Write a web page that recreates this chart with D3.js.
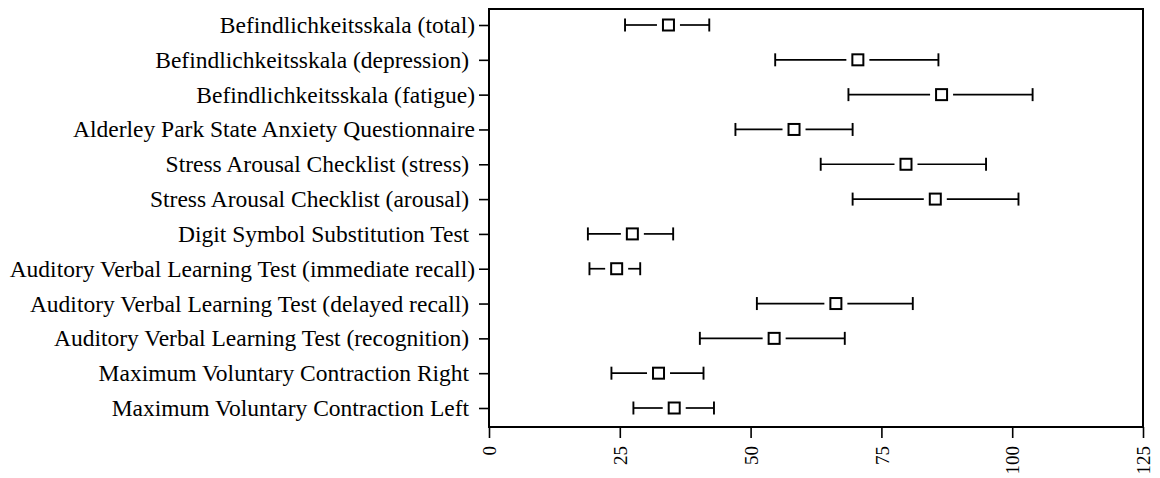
<!DOCTYPE html>
<html>
<head>
<meta charset="utf-8">
<script src="https://cdn.jsdelivr.net/npm/d3@7"></script>
<style>
  body { margin: 0; background: #fff; }
  svg { display: block; }
  text { white-space: pre; }
</style>
</head>
<body>
<svg id="chart" width="1160" height="478"></svg>
<script>
const categories = [
  "Befindlichkeitsskala (total)",
  "Befindlichkeitsskala (depression) ",
  "Befindlichkeitsskala (fatigue)",
  "Alderley Park State Anxiety Questionnaire",
  "Stress Arousal Checklist (stress) ",
  "Stress Arousal Checklist (arousal) ",
  "Digit Symbol Substitution Test ",
  "Auditory Verbal Learning Test (immediate recall)",
  "Auditory Verbal Learning Test (delayed recall) ",
  "Auditory Verbal Learning Test (recognition) ",
  "Maximum Voluntary Contraction Right ",
  "Maximum Voluntary Contraction Left "
];
const means = [34.3, 70.5, 86.5, 58.3, 79.7, 85.3, 27.4, 24.4, 66.3, 54.5, 32.4, 35.4];
const lows  = [26.0, 54.7, 68.7, 47.1, 63.4, 69.5, 18.9, 19.2, 51.2, 40.3, 23.4, 27.6];
const highs = [42.1, 85.9, 103.9, 69.5, 95.0, 101.2, 35.2, 28.9, 81.0, 68.0, 41.0, 43.0];
const xTicks = [0, 25, 50, 75, 100, 125];

const svg = d3.select("#chart");
const M = {left: 489, right: 1143, top: 9, bottom: 427};

const x = d3.scaleLinear().domain([0, 125]).range([M.left, M.right]);
const y = d3.scalePoint().domain(categories).range([25, 408]);

const font = "'Liberation Serif', 'Times New Roman', serif";

// frame
svg.append("rect")
  .attr("x", M.left).attr("y", M.top)
  .attr("width", M.right - M.left).attr("height", M.bottom - M.top)
  .attr("fill", "none").attr("stroke", "#000").attr("stroke-width", 2);

// y axis
const yAxis = svg.append("g")
  .attr("transform", `translate(${M.left},0)`)
  .call(d3.axisLeft(y).tickSize(10).tickPadding(4));
yAxis.select(".domain").remove();
yAxis.selectAll(".tick line").attr("stroke", "#000").attr("stroke-width", 1.6);
yAxis.selectAll(".tick text")
  .attr("font-family", font).attr("font-size", 23.5).attr("fill", "#000");

// x axis
const xAxis = svg.append("g")
  .attr("transform", `translate(0,${M.bottom})`)
  .call(d3.axisBottom(x).tickValues(xTicks).tickSize(11).tickFormat(d3.format("d")));
xAxis.select(".domain").remove();
xAxis.selectAll(".tick line").attr("stroke", "#000").attr("stroke-width", 1.6);
xAxis.selectAll(".tick text")
  .attr("font-family", font).attr("font-size", 19).attr("fill", "#000")
  .attr("transform", "rotate(-90)")
  .attr("text-anchor", "end")
  .attr("x", -19).attr("y", 0).attr("dy", "0.35em");

// error bars
const rows = categories.map((c, i) => ({c, m: means[i], lo: lows[i], hi: highs[i]}));
const g = svg.append("g");
const gap = 11.5, cap = 6.5;

g.selectAll(".wl").data(rows).join("line")
  .attr("x1", d => x(d.lo)).attr("x2", d => x(d.m) - gap)
  .attr("y1", d => y(d.c)).attr("y2", d => y(d.c))
  .attr("stroke", "#000").attr("stroke-width", 1.7);
g.selectAll(".wr").data(rows).join("line")
  .attr("x1", d => x(d.m) + gap).attr("x2", d => x(d.hi))
  .attr("y1", d => y(d.c)).attr("y2", d => y(d.c))
  .attr("stroke", "#000").attr("stroke-width", 1.7);
g.selectAll(".cl").data(rows).join("line")
  .attr("x1", d => x(d.lo)).attr("x2", d => x(d.lo))
  .attr("y1", d => y(d.c) - cap).attr("y2", d => y(d.c) + cap)
  .attr("stroke", "#000").attr("stroke-width", 1.9);
g.selectAll(".cr").data(rows).join("line")
  .attr("x1", d => x(d.hi)).attr("x2", d => x(d.hi))
  .attr("y1", d => y(d.c) - cap).attr("y2", d => y(d.c) + cap)
  .attr("stroke", "#000").attr("stroke-width", 1.9);
g.selectAll(".sq").data(rows).join("rect")
  .attr("x", d => x(d.m) - 5.5).attr("y", d => y(d.c) - 5.5)
  .attr("width", 11).attr("height", 11)
  .attr("fill", "#fff").attr("stroke", "#000").attr("stroke-width", 2);
</script>
</body>
</html>
